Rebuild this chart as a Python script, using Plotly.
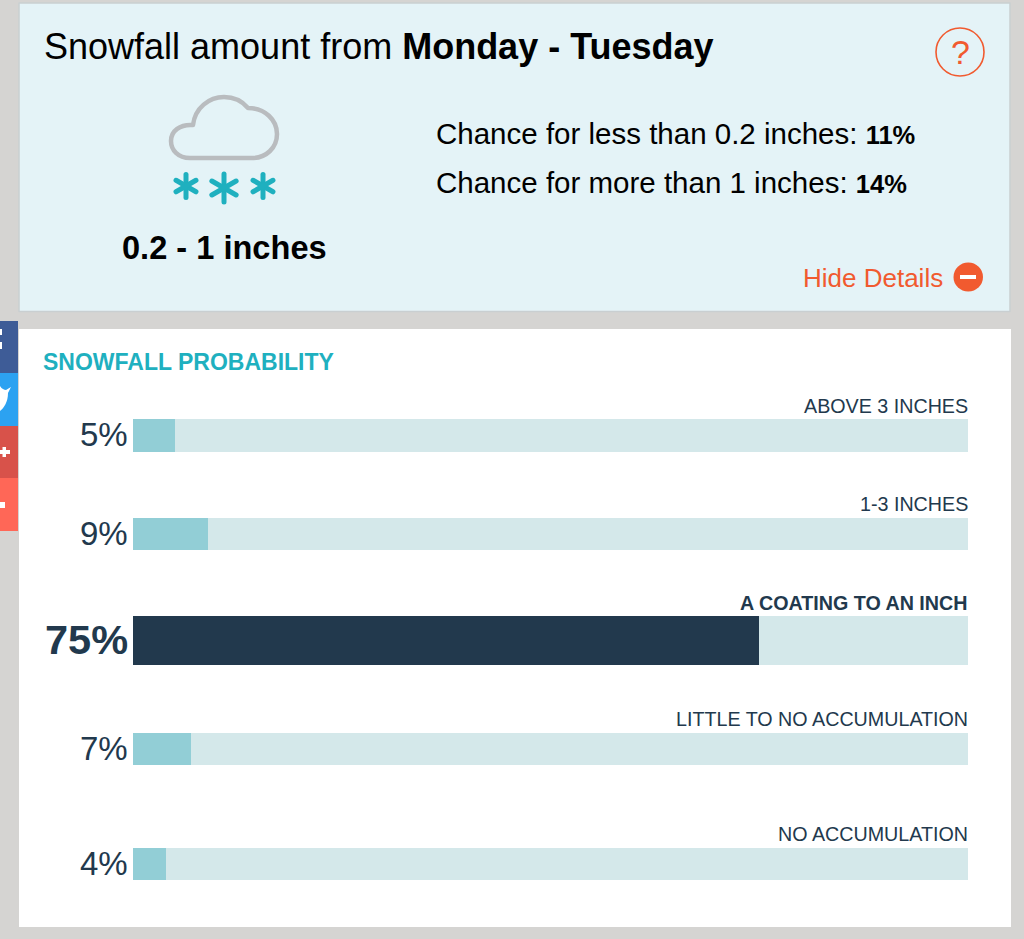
import math
import plotly.graph_objects as go

# Data
categories = ['ABOVE 3 INCHES', '1-3 INCHES', 'A COATING TO AN INCH', 'LITTLE TO NO ACCUMULATION', 'NO ACCUMULATION']
probabilities = [5, 9, 75, 7, 4]
track_values = [100, 100, 100, 100, 100]
highlighted = 'A COATING TO AN INCH'

chance_labels = ['Chance for less than 0.2 inches: ', 'Chance for more than 1 inches: ']
chance_values = [11, 14]

# Page is laid out in pixels, converted to paper coords
W, H = 1024, 939
FONT = 'Liberation Sans'
ORANGE = '#f15a2f'
TEAL = '#1fb0bf'
NAVY = '#22394d'


def px(x):
    return x / W


def py(y):
    return 1 - y / H


def rect(x0, y0, x1, y1, fill, line=None, width=0):
    return dict(type='rect', xref='paper', yref='paper', x0=px(x0), x1=px(x1), y0=py(y0), y1=py(y1),
                fillcolor=fill, line=dict(color=line, width=width), layer='below')


def path(points, color, width, fill=None):
    # points is a list of commands, e.g. ('M', x, y) or ('C', x1, y1, x2, y2, x, y)
    parts = []
    for p in points:
        coords = p[1:]
        conv = [px(v) if k % 2 == 0 else py(v) for k, v in enumerate(coords)]
        parts.append(p[0] + ' ' + ' '.join(f'{v:.5f}' for v in conv))
    return dict(type='path', xref='paper', yref='paper', path=' '.join(parts),
                line=dict(color=color, width=width), fillcolor=fill, layer='above')


def label(x, y, text, size, color='#000000', anchor='left'):
    return dict(xref='paper', yref='paper', x=px(x), y=py(y), text=text, showarrow=False,
                xanchor=anchor, yanchor='middle', borderpad=0, borderwidth=0,
                font=dict(family=FONT, size=size, color=color))


shapes = [
    rect(19, 3, 1010, 311.5, '#e4f3f7', '#c9cfd1', 1.5),
    rect(19, 329, 1011, 927, '#ffffff'),
    # share buttons on the left edge
    rect(0, 321, 18, 373, '#3e5c97'),
    rect(0, 373, 18, 426, '#2ca2f1'),
    rect(0, 426, 18, 478, '#d8524a'),
    rect(0, 478, 18, 531, '#ff6757'),
    rect(0, 329, 2, 335, '#ffffff'),
    rect(0, 342, 2, 349, '#ffffff'),
    rect(0, 450, 10, 454, '#ffffff'),
    rect(2.5, 447, 6, 457, '#ffffff'),
    rect(0, 502, 5, 508, '#ffffff'),
]
shapes.append(path([('M', 0, 386), ('C', 2, 389, 4, 390, 6, 390), ('L', 11, 387), ('L', 8, 393),
                    ('C', 8, 402, 4, 408, 0, 411), ('Z',)], '#ffffff', 0, '#ffffff'))

# cloud icon
shapes.append(path([
    ('M', 190, 158),
    ('C', 178, 158, 171, 150, 171, 141),
    ('C', 171, 131, 180, 124, 193, 125),
    ('C', 195, 108, 209, 97, 224, 97),
    ('C', 235, 97, 243, 102, 248, 108),
    ('C', 265, 108, 277, 120, 277, 134),
    ('C', 277, 148, 266, 158, 252, 158),
    ('Z',),
], '#b9bcbf', 4.5))

# snow asterisks
for cx, cy, r in [(186, 186, 11.5), (224, 188, 14), (263, 186, 11.5)]:
    for ang in (90, 30, 150):
        dx = r * math.cos(math.radians(ang))
        dy = r * math.sin(math.radians(ang))
        shapes.append(path([('M', cx - dx, cy - dy), ('L', cx + dx, cy + dy)], TEAL, 5))

# help and hide icons
shapes.append(dict(type='circle', xref='paper', yref='paper', x0=px(936), x1=px(984), y0=py(28), y1=py(76),
                   line=dict(color=ORANGE, width=1.6), fillcolor='rgba(0,0,0,0)'))
shapes.append(dict(type='circle', xref='paper', yref='paper', x0=px(953.5), x1=px(983), y0=py(262.5), y1=py(291.5),
                   line=dict(width=0), fillcolor=ORANGE))
shapes.append(dict(type='rect', xref='paper', yref='paper', x0=px(960), x1=px(976), y0=py(275), y1=py(279),
                   line=dict(width=0), fillcolor='#ffffff'))

annotations = [
    label(44, 46, 'Snowfall amount from <b>Monday - Tuesday</b>', 36),
    label(224, 248, '<b>0.2 - 1 inches</b>', 32.6, anchor='center'),
    label(960, 52, '?', 34, ORANGE, 'center'),
    label(943, 278, 'Hide Details', 26, ORANGE, 'right'),
    label(43, 362, '<b>SNOWFALL PROBABILITY</b>', 23, TEAL),
]
for row_y, lab, val in zip([133.5, 183], chance_labels, chance_values):
    annotations.append(label(436, row_y, f'{lab}<b><span style="font-size:25.5px">{val}%</span></b>', 29.5))

# one small axis per bar, since rows are not evenly spaced
bar_tops = [419, 518, 616, 733, 848]
bar_bottoms = [452, 550, 665, 765, 880]
label_y = [406, 504.5, 603, 719, 834]
bar_left, bar_right = 133, 968

fig = go.Figure()
layout_axes = {}
for i, (cat, val, track) in enumerate(zip(categories, probabilities, track_values)):
    suffix = '' if i == 0 else str(i + 1)
    is_main = cat == highlighted
    fig.add_trace(go.Bar(x=[track], y=[cat], orientation='h', marker=dict(color='#d4e8ea', line=dict(width=0)),
                         xaxis=f'x{suffix}', yaxis=f'y{suffix}', showlegend=False, hoverinfo='skip'))
    fig.add_trace(go.Bar(x=[val], y=[cat], orientation='h',
                         marker=dict(color=NAVY if is_main else '#92ced6', line=dict(width=0)),
                         xaxis=f'x{suffix}', yaxis=f'y{suffix}', showlegend=False, hoverinfo='skip'))
    layout_axes[f'xaxis{suffix}'] = dict(domain=[px(bar_left), px(bar_right)], range=[0, 100], visible=False,
                                         anchor=f'y{suffix}', fixedrange=True)
    layout_axes[f'yaxis{suffix}'] = dict(domain=[py(bar_bottoms[i]), py(bar_tops[i])], visible=False,
                                         anchor=f'x{suffix}', type='category', range=[-0.5, 0.5], fixedrange=True)

    mid = (bar_tops[i] + bar_bottoms[i]) / 2
    pct = f'<b>{val}%</b>' if is_main else f'{val}%'
    annotations.append(label(128, mid - 1, pct, 41.5 if is_main else 33, NAVY, 'right'))
    annotations.append(label(bar_right, label_y[i] - 0.5, f'<b>{cat}</b>' if is_main else cat, 19.7, NAVY, 'right'))

fig.update_layout(
    width=W, height=H,
    margin=dict(l=0, r=0, t=0, b=0),
    paper_bgcolor='#d5d4d2',
    plot_bgcolor='rgba(0,0,0,0)',
    barmode='overlay',
    bargap=0,
    font=dict(family=FONT),
    shapes=shapes,
    annotations=annotations,
    **layout_axes,
)

# round caps on the icon strokes, shapes have no option for it
fig.write_html('out.html', config=dict(displayModeBar=False),
               post_script="document.body.style.margin='0';document.body.style.overflow='hidden';"
                           "document.querySelectorAll('.shapelayer path').forEach(function(p){"
                           "p.style.strokeLinecap='round';p.style.strokeLinejoin='round';});")
